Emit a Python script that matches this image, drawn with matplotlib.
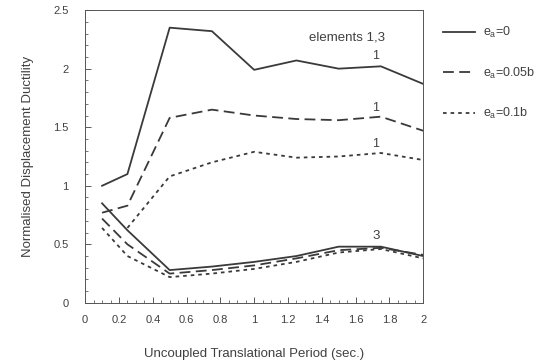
import matplotlib
matplotlib.use('Agg')
import matplotlib.pyplot as plt
from matplotlib.ticker import MultipleLocator, FuncFormatter
from matplotlib.lines import Line2D

# 周期 (sec.)
period = [0.1, 0.25, 0.5, 0.75, 1.0, 1.25, 1.5, 1.75, 2.0]
period_e1_01 = [0.25, 0.5, 0.75, 1.0, 1.25, 1.5, 1.75, 2.0]

# element 1
e1_ea0 = [1.00, 1.10, 2.35, 2.32, 1.99, 2.07, 2.00, 2.02, 1.87]
e1_ea005 = [0.77, 0.83, 1.58, 1.65, 1.60, 1.57, 1.56, 1.59, 1.47]
e1_ea01 = [0.64, 1.08, 1.20, 1.29, 1.24, 1.25, 1.28, 1.22]

# element 3
e3_ea0 = [0.85, 0.62, 0.28, 0.31, 0.35, 0.40, 0.48, 0.48, 0.40]
e3_ea005 = [0.72, 0.50, 0.25, 0.28, 0.32, 0.38, 0.45, 0.47, 0.41]
e3_ea01 = [0.64, 0.40, 0.22, 0.25, 0.29, 0.35, 0.43, 0.46, 0.38]

legend_labels = [r'$e_a$=0', r'$e_a$=0.05b', r'$e_a$=0.1b']

LINE_C = '#3a3a3a'
TEXT_C = '#404040'
plt.rcParams['font.family'] = ['Liberation Sans', 'DejaVu Sans']
plt.rcParams['mathtext.fontset'] = 'custom'
plt.rcParams['mathtext.rm'] = 'Liberation Sans'
plt.rcParams['mathtext.it'] = 'Liberation Sans'

styles = ['-', (0, (6, 3)), (0, (2, 2.2))]

fig = plt.figure(figsize=(5.46, 3.61), dpi=100)
ax = fig.add_axes([0.156, 0.161, 0.619, 0.811])

for x, y, ls in [(period, e1_ea0, styles[0]), (period, e1_ea005, styles[1]),
                 (period_e1_01, e1_ea01, styles[2]), (period, e3_ea0, styles[0]),
                 (period, e3_ea005, styles[1]), (period, e3_ea01, styles[2])]:
    ax.plot(x, y, linestyle=ls, color=LINE_C, lw=1.3)

ax.set_xlim(0, 2)
ax.set_ylim(0, 2.5)
ax.xaxis.set_major_locator(MultipleLocator(0.2))
ax.xaxis.set_minor_locator(MultipleLocator(0.05))
ax.yaxis.set_major_locator(MultipleLocator(0.5))
ax.yaxis.set_minor_locator(MultipleLocator(0.1))
fmt = FuncFormatter(lambda v, p: ('%.1f' % v).rstrip('0').rstrip('.'))
ax.xaxis.set_major_formatter(fmt)
ax.yaxis.set_major_formatter(fmt)
ax.tick_params(which='both', direction='in', colors=TEXT_C, labelsize=8)
ax.tick_params(which='major', length=4, width=0.6)
ax.tick_params(which='minor', length=2, width=0.5)
ax.tick_params(axis='x', pad=9)
ax.tick_params(axis='y', pad=12)
for s in ax.spines.values():
    s.set_color('#555555')
    s.set_linewidth(0.7)

ax.set_xlabel('Uncoupled Translational Period (sec.)', fontsize=9.5, color=TEXT_C, labelpad=16)
ax.set_ylabel('Normalised Displacement Ductility', fontsize=9.5, color=TEXT_C, labelpad=14)

# 标注
ax.text(1.55, 2.27, 'elements 1,3', fontsize=9.5, color=TEXT_C, ha='center', va='center')
ax.text(1.72, 2.11, '1', fontsize=9, color=TEXT_C, ha='center', va='center')
ax.text(1.72, 1.66, '1', fontsize=9, color=TEXT_C, ha='center', va='center')
ax.text(1.72, 1.36, '1', fontsize=9, color=TEXT_C, ha='center', va='center')
ax.text(1.72, 0.57, '3', fontsize=9.5, color=TEXT_C, ha='center', va='center')

# 图例
handles = [Line2D([0], [0], linestyle=ls, color=LINE_C, lw=1.3) for ls in styles]
leg = fig.legend(handles, legend_labels, loc='upper left', bbox_to_anchor=(0.806, 0.938),
                 frameon=False, fontsize=9, handlelength=2.6, labelspacing=2.05,
                 handletextpad=0.6, labelcolor=TEXT_C, borderaxespad=0, borderpad=0.2)

fig.savefig('out.png', dpi=100)
